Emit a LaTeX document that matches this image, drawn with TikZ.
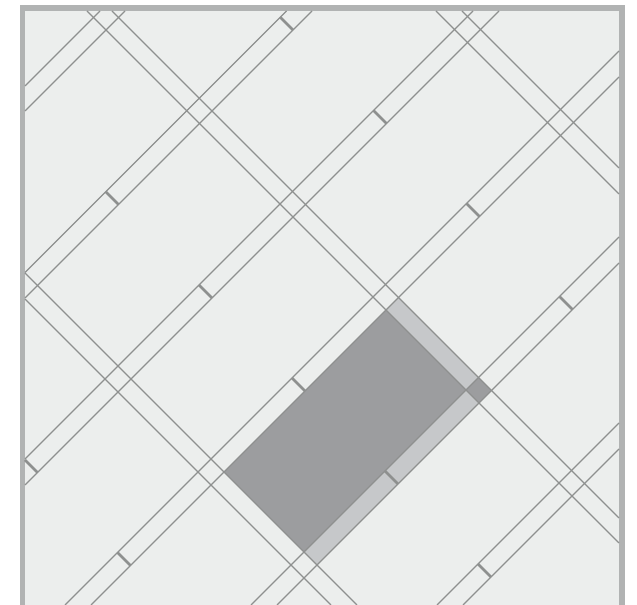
\documentclass[tikz,border=0pt]{standalone}
\usepackage{xcolor}
\definecolor{framegray}{HTML}{B1B3B3}
\definecolor{groundgray}{HTML}{ECEEED}
\definecolor{darkgray}{HTML}{9C9D9F}
\definecolor{lightgray}{HTML}{C6C8CA}
\definecolor{linegray}{HTML}{8E908F}
\tikzstyle{border} = [fill=framegray]
\tikzstyle{ground} = [fill=groundgray]
\tikzstyle{darkpatch} = [fill=darkgray]
\tikzstyle{lightpatch} = [fill=lightgray]
\tikzstyle{joint} = [draw=linegray, line width=1pt]
\tikzstyle{tick} = [draw=linegray, line width=2pt]

\begin{document}
\begin{tikzpicture}[x=0.75pt, y=-0.75pt]
\useasboundingbox (0,0) rectangle (637,605);
\fill [border] (20,5) rectangle (625,605);
\fill [ground] (25,11) rectangle (619,605);
% shaded patches
\fill [darkpatch] (386,310) -- (466,390) -- (304,552) -- (224,472) -- cycle;
\fill [lightpatch] (386,310) -- (398.5,297.5) -- (478.5,377.5) -- (466,390) -- cycle;
\fill [lightpatch] (466,390) -- (479,403) -- (317,565) -- (304,552) -- cycle;
\fill [darkpatch] (466,390) -- (478.5,377.5) -- (491.5,390.5) -- (479,403) -- cycle;
% rising joints
\draw [joint] (25,86) -- (100,11);
\draw [joint] (25,111) -- (125,11);
\draw [joint] (25,272.5) -- (286.5,11);
\draw [joint] (25,298) -- (312,11);
\draw [joint] (25,459) -- (473,11);
\draw [joint] (25,485) -- (499,11);
\draw [joint] (65,605) -- (619,51);
\draw [joint] (91,605) -- (619,77);
\draw [joint] (251,605) -- (619,237);
\draw [joint] (277,605) -- (619,263);
\draw [joint] (437,605) -- (619,423);
\draw [joint] (463,605) -- (619,449);
% falling joints
\draw [joint] (462,11) -- (619,168);
\draw [joint] (436,11) -- (619,194);
\draw [joint] (112,11) -- (619,518);
\draw [joint] (87,11) -- (619,543);
\draw [joint] (25,273) -- (357,605);
\draw [joint] (25,299) -- (331,605);
% ticks
\draw [tick] (280.25,17.25) -- (293,30);
\draw [tick] (373.5,110.5) -- (386.5,123.5);
\draw [tick] (466.5,203.5) -- (479.5,216.5);
\draw [tick] (559.5,296.5) -- (572.5,309.5);
\draw [tick] (105.75,191.75) -- (118.5,204.5);
\draw [tick] (199,285) -- (212,298);
\draw [tick] (292,378) -- (305,391);
\draw [tick] (385,471) -- (398,484);
\draw [tick] (478,564) -- (491,577);
\draw [tick] (25,460) -- (37.5,472.5);
\draw [tick] (117.5,552.5) -- (130.5,565.5);
\end{tikzpicture}
\end{document}
